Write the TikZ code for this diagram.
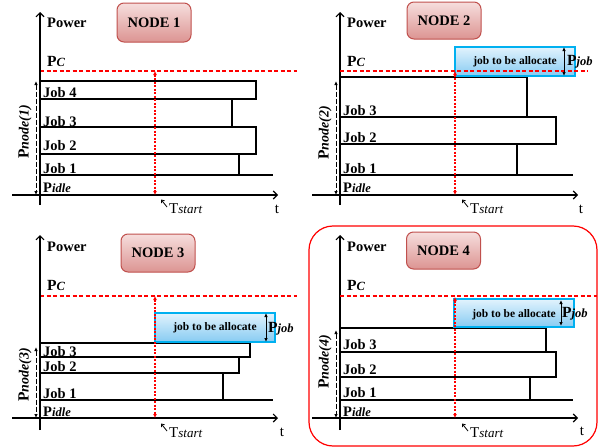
\documentclass[tikz,border=0pt]{standalone}
\usepackage{fontspec}
\setmainfont{Liberation Serif}
\usetikzlibrary{arrows.meta}
\definecolor{nodetop}{RGB}{246,222,221}
\definecolor{nodebot}{RGB}{220,148,146}
\definecolor{nodeborder}{RGB}{192,80,77}
\definecolor{alloctop}{RGB}{226,243,253}
\definecolor{allocbot}{RGB}{135,203,242}
\definecolor{allocborder}{RGB}{0,176,240}
\definecolor{redline}{RGB}{255,0,0}
\newcommand\fsz[1]{\fontsize{#1}{#1}\selectfont}
\newcommand\subi[1]{{\fsz{12.5}\bfseries\itshape #1}}
\newcommand\bigP{{\fsz{15.5}\bfseries P}}
\tikzset{
  axis/.style={line width=1.3pt, -{Straight Barb[length=4pt,width=8pt,line width=1.1pt]}},
  jobbox/.style={draw=black, line width=1.2pt, fill=white},
  idleline/.style={draw=black, line width=1.3pt},
  pcline/.style={draw=redline, line width=1.1pt, dash pattern=on 4pt off 2.5pt},
  tline/.style={draw=redline, line width=1.1pt, dash pattern=on 2pt off 1.5pt, {Latex[length=4pt,width=4pt]}-{Latex[length=4pt,width=4pt]}},
  pnline/.style={draw=black, line width=0.9pt, dash pattern=on 5pt off 2pt, {Latex[length=4pt,width=3.5pt]}-{Latex[length=4pt,width=3.5pt]}},
  pjline/.style={draw=black, line width=1pt, {Latex[length=4pt,width=3.5pt]}-{Latex[length=4pt,width=3.5pt]}},
  tsarrow/.style={draw=black, line width=0.8pt, -{Straight Barb[length=2.5pt,width=4pt]}},
  lbl/.style={font=\bfseries\fsz{14.5}, inner sep=0pt},
  plain/.style={font=\fsz{15}, inner sep=0pt},
  nodebox/.style={draw=nodeborder, line width=1pt, rounded corners=7pt, top color=nodetop, bottom color=nodebot, font=\bfseries\fsz{14.5}, minimum width=74pt, minimum height=38pt, inner sep=0pt},
  allocbox/.style={draw=allocborder, line width=1.2pt, top color=alloctop, bottom color=allocbot},
  alloctxt/.style={font=\bfseries\fsz{11.5}, inner sep=0pt},
  frame4/.style={draw=redline, line width=1.2pt, rounded corners=24pt}
}
\begin{document}
\begin{tikzpicture}[x=1pt,y=-1pt]
\useasboundingbox (0,0) rectangle (598,447);

% ================= PANEL 1 =================
\begin{scope}
\draw[pcline] (40,71) -- (297,71);
\draw[jobbox] (40,81) rectangle (256,99);
\draw[jobbox] (40,99) rectangle (232,127);
\draw[jobbox] (40,127) rectangle (256,154);
\draw[jobbox] (40,154) rectangle (239,175);
\draw[idleline] (40,175) -- (273,175);
\draw[axis] (12,195) -- (278,195);
\draw[axis] (40,205) -- (40,12);
\node[lbl, anchor=west] (a-pow) at (47,23) {Power};
\node[nodebox, minimum height=39pt] (a-node) at (154,22.5) {NODE 1};
\node[lbl, anchor=west] (a-pc) at (47,61) {\bigP\subi{C}};
\node[lbl, anchor=base west] (a-j4) at (43,97.5) {Job 4};
\node[lbl, anchor=base west] (a-j3) at (43,126) {Job 3};
\node[lbl, anchor=base west] (a-j2) at (43,150.5) {Job 2};
\node[lbl, anchor=base west] (a-j1) at (43,173.5) {Job 1};
\node[lbl, anchor=base west] (a-idle) at (43,192) {P\subi{idle}};
\coordinate (a-ttop) at (155,71);
\coordinate (a-tbot) at (155,195);
\draw[tline] (a-ttop) -- (a-tbot);
\coordinate (a-ptop) at (36,81);
\coordinate (a-pbot) at (36,195);
\draw[pnline] (a-ptop) -- (a-pbot);
\node[lbl, rotate=90] (a-pn) at (25,132) {\bigP{\fsz{14}\bfseries\itshape node(1)}};
\coordinate (a-tsa) at (167,207);
\coordinate (a-tsb) at (161,199.5);
\draw[tsarrow] (a-tsa) -- (a-tsb);
\node[plain, anchor=west] (a-ts) at (169,209) {T{\fsz{13}\itshape start}};
\node[plain] (a-t) at (277,209) {t};
\end{scope}

% ================= PANEL 2 =================
\begin{scope}[shift={(300,0)}]
\draw[jobbox] (40,77) rectangle (227,117);
\draw[jobbox] (40,117) rectangle (256,144);
\draw[jobbox] (40,144) rectangle (217,175);
\draw[idleline] (40,175) -- (273,175);
\draw[axis] (12,195) -- (278,195);
\draw[axis] (40,205) -- (40,12);
\node[allocbox, minimum width=120pt, minimum height=29pt, inner sep=0pt] (b-alloc) at (215,61.5) {};
\node[alloctxt] (b-atxt) at (215,62) {job to be allocate};
\draw[pcline] (40,71) -- (288,71);
\coordinate (b-jtop) at (264,47);
\coordinate (b-jbot) at (264,76);
\draw[pjline] (b-jtop) -- (b-jbot);
\node[lbl, anchor=west] (b-pj) at (267,62) {\bigP\subi{job}};
\node[lbl, anchor=west] (b-pow) at (47,23) {Power};
\node[nodebox, minimum height=37pt] (b-node) at (144,20.5) {NODE 2};
\node[lbl, anchor=west] (b-pc) at (47,61) {\bigP\subi{C}};
\node[lbl, anchor=base west] (b-j3) at (43,115.5) {Job 3};
\node[lbl, anchor=base west] (b-j2) at (43,142.5) {Job 2};
\node[lbl, anchor=base west] (b-j1) at (43,173.5) {Job 1};
\node[lbl, anchor=base west] (b-idle) at (43,192) {P\subi{idle}};
\coordinate (b-ttop) at (155,71);
\coordinate (b-tbot) at (155,195);
\draw[tline] (b-ttop) -- (b-tbot);
\coordinate (b-ptop) at (36,81);
\coordinate (b-pbot) at (36,195);
\draw[pnline] (b-ptop) -- (b-pbot);
\node[lbl, rotate=90] (b-pn) at (25,133) {\bigP{\fsz{14}\bfseries\itshape node(2)}};
\coordinate (b-tsa) at (168,207);
\coordinate (b-tsb) at (162,199.5);
\draw[tsarrow] (b-tsa) -- (b-tsb);
\node[plain, anchor=west] (b-ts) at (170,209) {T{\fsz{13}\itshape start}};
\node[plain] (b-t) at (281,209) {t};
\end{scope}

% ================= PANEL 3 =================
\begin{scope}[shift={(0,225)}]
\draw[pcline] (40,71) -- (297,71);
\draw[jobbox] (40,118) rectangle (250,132);
\draw[jobbox] (40,132) rectangle (239,148);
\draw[jobbox] (40,148) rectangle (223,175);
\draw[idleline] (40,175) -- (273,175);
\draw[axis] (12,193) -- (278,193);
\draw[axis] (40,205) -- (40,10);
\node[allocbox, minimum width=120pt, minimum height=29pt, inner sep=0pt] (c-alloc) at (215,102.5) {};
\node[alloctxt] (c-atxt) at (215,103) {job to be allocate};
\coordinate (c-jtop) at (266,88);
\coordinate (c-jbot) at (266,117);
\draw[pjline] (c-jtop) -- (c-jbot);
\node[lbl, anchor=west] (c-pj) at (268,104) {\bigP\subi{job}};
\node[lbl, anchor=west] (c-pow) at (47,22) {Power};
\node[nodebox, minimum height=38pt] (c-node) at (158,28) {NODE 3};
\node[lbl, anchor=west] (c-pc) at (47,60) {\bigP\subi{C}};
\node[lbl, anchor=base west] (c-j3) at (43,131.5) {Job 3};
\node[lbl, anchor=base west] (c-j2) at (43,146.5) {Job 2};
\node[lbl, anchor=base west] (c-j1) at (43,173.5) {Job 1};
\node[lbl, anchor=base west] (c-idle) at (43,191) {P\subi{idle}};
\coordinate (c-ttop) at (155,71);
\coordinate (c-tbot) at (155,193);
\draw[tline] (c-ttop) -- (c-tbot);
\coordinate (c-ptop) at (36,122);
\coordinate (c-pbot) at (36,193);
\draw[pnline] (c-ptop) -- (c-pbot);
\node[lbl, rotate=90] (c-pn) at (25,150) {\bigP{\fsz{14}\bfseries\itshape node(3)}};
\coordinate (c-tsa) at (167,206);
\coordinate (c-tsb) at (161,198.5);
\draw[tsarrow] (c-tsa) -- (c-tsb);
\node[plain, anchor=west] (c-ts) at (169,208) {T{\fsz{13}\itshape start}};
\node[plain] (c-t) at (282,207) {t};
\end{scope}

% ================= PANEL 4 =================
\begin{scope}[shift={(300,225)}]
\draw[frame4] (9,1) rectangle (297,221);
\draw[jobbox] (40,103) rectangle (246,127);
\draw[jobbox] (40,127) rectangle (256,152);
\draw[jobbox] (40,152) rectangle (230,175);
\draw[idleline] (40,175) -- (273,175);
\draw[axis] (12,193) -- (278,193);
\draw[axis] (40,205) -- (40,10);
\node[allocbox, minimum width=120pt, minimum height=28pt, inner sep=0pt] (d-alloc) at (214,88) {};
\node[alloctxt] (d-atxt) at (214,90) {job to be allocate};
\draw[pcline] (40,71) -- (297,71);
\coordinate (d-jtop) at (261,75);
\coordinate (d-jbot) at (261,101);
\draw[pjline] (d-jtop) -- (d-jbot);
\node[lbl, anchor=west] (d-pj) at (262,89) {\bigP\subi{job}};
\node[lbl, anchor=west] (d-pow) at (47,22) {Power};
\node[nodebox, minimum height=37pt] (d-node) at (143.5,25.5) {NODE 4};
\node[lbl, anchor=west] (d-pc) at (47,60) {\bigP\subi{C}};
\node[lbl, anchor=base west] (d-j3) at (43,124.5) {Job 3};
\node[lbl, anchor=base west] (d-j2) at (43,149.5) {Job 2};
\node[lbl, anchor=base west] (d-j1) at (43,172.5) {Job 1};
\node[lbl, anchor=base west] (d-idle) at (43,191) {P\subi{idle}};
\coordinate (d-ttop) at (155,72);
\coordinate (d-tbot) at (155,193);
\draw[tline] (d-ttop) -- (d-tbot);
\coordinate (d-ptop) at (36,105);
\coordinate (d-pbot) at (36,193);
\draw[pnline] (d-ptop) -- (d-pbot);
\node[lbl, rotate=90] (d-pn) at (25,137) {\bigP{\fsz{14}\bfseries\itshape node(4)}};
\coordinate (d-tsa) at (168,206);
\coordinate (d-tsb) at (162,198.5);
\draw[tsarrow] (d-tsa) -- (d-tsb);
\node[plain, anchor=west] (d-ts) at (170,208) {T{\fsz{13}\itshape start}};
\node[plain] (d-t) at (282,206) {t};
\end{scope}
\end{tikzpicture}
\end{document}
